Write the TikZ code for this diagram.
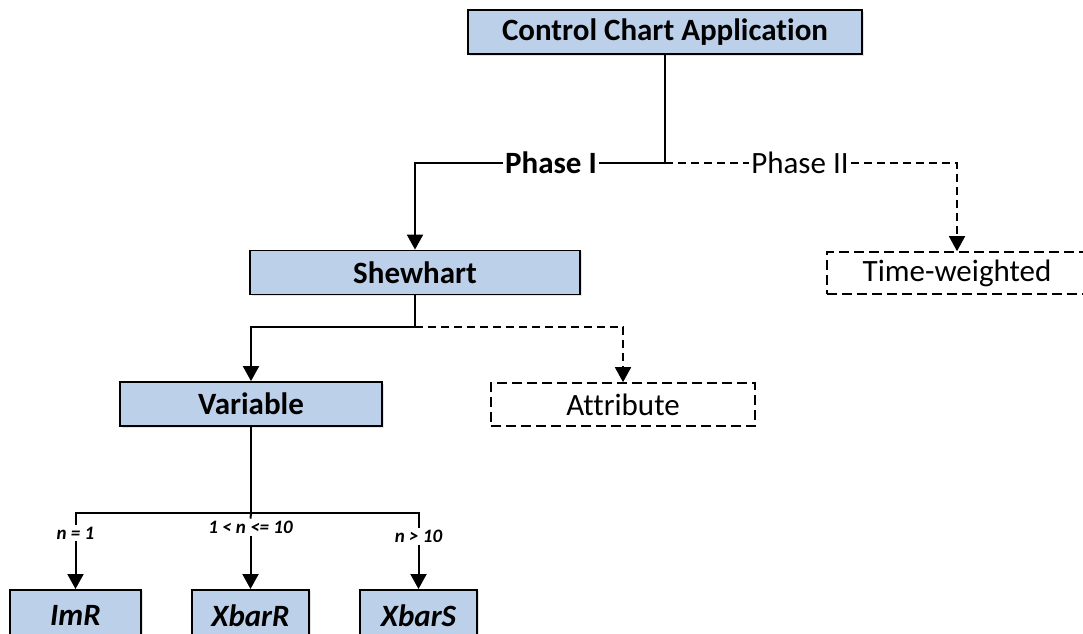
\documentclass[tikz,border=0pt]{standalone}
\usepackage{fontspec}
\setmainfont{Carlito}[Ligatures=NoCommon]
\usetikzlibrary{arrows.meta,shadows}
\definecolor{boxblue}{RGB}{189,208,233}
\tikzset{
  box/.style={draw, line width=1.8pt, fill=boxblue, font=\fontsize{31}{36}\selectfont\bfseries,
    inner sep=0pt, align=center,
    drop shadow={shadow xshift=1.5pt, shadow yshift=-1.5pt, fill=black!30, opacity=0.35}},
  altbox/.style={draw, line width=1.6pt, dash pattern=on 10pt off 5pt, font=\fontsize{31}{36}\selectfont,
    inner sep=0pt, align=center},
  conn/.style={line width=2pt},
  altconn/.style={line width=1.6pt, dash pattern=on 8pt off 5pt},
  tip/.style={-{Triangle[width=16pt,length=15pt]}},
  phaselbl/.style={inner sep=2pt, font=\fontsize{31}{36}\selectfont},
  nlbl/.style={inner sep=2pt, font=\fontsize{19}{22}\selectfont\bfseries\itshape},
}
\begin{document}
\begin{tikzpicture}[x=1pt,y=1pt]
\useasboundingbox (0,0) rectangle (1083,-633);

% boxes
\node[box, minimum width=394pt, minimum height=44pt] (cca) at (665,-32) {Control Chart Application};
\node[box, minimum width=330pt, minimum height=44pt] (shew) at (415,-272.5) {Shewhart};
\node[altbox, minimum width=260pt, minimum height=42pt] (tw) at (957,-273) {Time-weighted};
\node[box, minimum width=262pt, minimum height=44pt] (var) at (251,-404) {Variable};
\node[altbox, minimum width=264pt, minimum height=43pt] (attr) at (623,-404.5) {Attribute};
\node[box, font=\fontsize{31}{36}\selectfont\bfseries\itshape, minimum width=131pt, minimum height=52pt, anchor=north] (imr) at (75.5,-589) {ImR};
\node[box, font=\fontsize{31}{36}\selectfont\bfseries\itshape, minimum width=117pt, minimum height=52pt, anchor=north] (xbr) at (250.5,-589) {XbarR};
\node[box, font=\fontsize{31}{36}\selectfont\bfseries\itshape, minimum width=117pt, minimum height=52pt, anchor=north] (xbs) at (418.5,-589) {XbarS};

% phase split
\coordinate (j1) at (cca.south |- 0,-163);
\node[phaselbl, font=\fontsize{31}{36}\selectfont\bfseries] (p1) at (551,-163) {Phase I};
\node[phaselbl] (p2) at (800,-163) {Phase II};
\draw[conn] (cca.south) -- (j1) -- (p1.east);
\draw[conn, tip] (p1.west) -| (shew.north);
\draw[altconn] (j1) -- (p2.west);
\draw[altconn, tip] (p2.east) -| (tw.north);

% Shewhart split
\coordinate (j2) at (shew.south |- 0,-327);
\draw[conn] (shew.south) -- (j2);
\draw[conn, tip] (j2) -| (var.north);
\draw[altconn, tip] (j2) -| (attr.north);

% subgroup size split
\coordinate (j3) at (var.south |- 0,-513);
\node[nlbl] (n1) at (imr.north |- 0,-533) {n = 1};
\node[nlbl] (n2) at (xbr.north |- 0,-527) {1 < n <= 10};
\node[nlbl] (n3) at (xbs.north |- 0,-536) {n > 10};
\draw[conn] (var.south) -- (j3);
\draw[conn] (n1.north) -- (imr.north |- j3) -- (xbs.north |- j3) -- (n3.north);
\draw[conn] (j3) -- (n2.north);
\draw[conn, tip] (n1.south) -- (imr.north);
\draw[conn, tip] (n2.south) -- (xbr.north);
\draw[conn, tip] (n3.south) -- (xbs.north);
\end{tikzpicture}
\end{document}
